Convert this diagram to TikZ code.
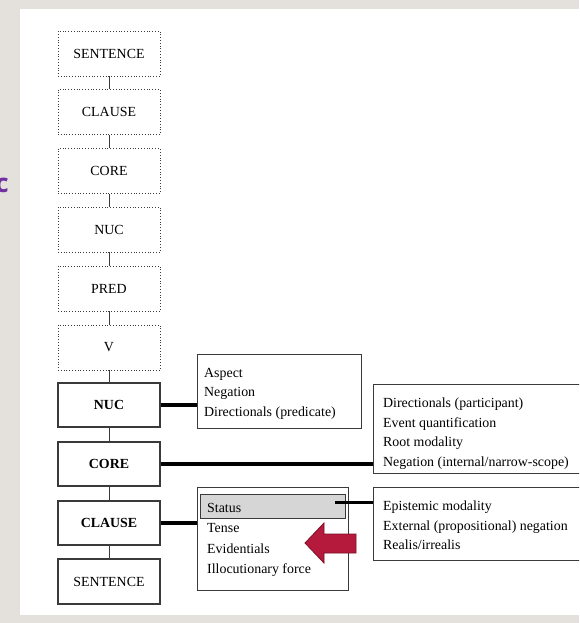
\documentclass[tikz,border=0pt]{standalone}
\usepackage{fontspec}
\setmainfont{Liberation Serif}
\newfontfamily\slidefont{Open Sans}
\definecolor{slidebg}{HTML}{E4E1DD}
\definecolor{framegray}{HTML}{3A3A3A}
\definecolor{statusgray}{HTML}{D6D6D6}
\definecolor{arrowred}{HTML}{B51A3C}
\definecolor{arrowedge}{HTML}{7A1028}
\definecolor{titlepurple}{HTML}{7030A0}
\begin{document}
\begin{tikzpicture}[x=1pt,y=-1pt,
  every node/.style={font=\fontsize{13.9}{19.5}\selectfont, inner sep=0pt},
  layerbox/.style={draw=framegray, dotted, line width=0.8pt, minimum width=102pt, minimum height=45pt},
  opbox/.style={draw=framegray, line width=1.3pt, minimum width=102pt, minimum height=44pt},
  listbox/.style={draw=framegray, line width=1.2pt, anchor=north west},
  listtext/.style={anchor=north west, align=left},
  linkline/.style={draw=framegray, line width=0.9pt},
  heavyline/.style={draw=black, line width=4pt}]
  % slide background and white panel
  \fill[slidebg] (0,0) rectangle (579,623);
  \useasboundingbox (0,0) rectangle (579,623);
  \clip (0,0) rectangle (579,623);
  \fill[white] (20,9) rectangle (579,615);
  % slide title letter, running off the left edge
  \node[text=titlepurple, font=\slidefont\bfseries\fontsize{26}{26}\selectfont, anchor=east] (title) at (9,185) {c};

  % layered structure (dotted)
  \node[layerbox] (s1) at (109,53.5) {SENTENCE};
  \node[layerbox] (c1) at (109,112) {CLAUSE};
  \node[layerbox] (k1) at (109,171) {CORE};
  \node[layerbox] (n1) at (109,229.5) {NUC};
  \node[layerbox] (p1) at (109,288.5) {PRED};
  \node[layerbox] (v1) at (109,347.5) {V};
  % operator projection (solid)
  \node[opbox] (n2) at (109,405) {\bfseries NUC};
  \node[opbox] (k2) at (109,464) {\bfseries CORE};
  \node[opbox] (c2) at (109,523) {\bfseries CLAUSE};
  \node[opbox, minimum height=45pt] (s2) at (109,581.5) {SENTENCE};

  \foreach \a/\b in {s1/c1,c1/k1,k1/n1,n1/p1,p1/v1,v1/n2,n2/k2,k2/c2,c2/s2}
    \draw[linkline] (\a.south) -- (\b.north);

  % operator lists
  \node[listbox, minimum width=164pt, minimum height=74pt] (nucops) at (197,354) {};
  \node[listtext] (nuctext) at (204,368)
    {Aspect\\Negation\\Directionals (predicate)};

  \node[listbox, minimum width=215pt, minimum height=89pt] (coreops) at (373,384) {};
  \node[listtext] (coretext) at (383,398)
    {Directionals (participant)\\Event quantification\\Root modality\\Negation (internal/narrow-scope)};

  \node[listbox, minimum width=151pt, minimum height=103pt] (clauseops) at (197,487) {};
  \node[draw=framegray, line width=0.6pt, fill=statusgray, anchor=north west,
        minimum width=145pt, minimum height=24pt] (status) at (200,494) {};
  \node[listtext, font=\fontsize{13.9}{20.3}\selectfont] (clausetext) at (207,503)
    {Status\\Tense\\Evidentials\\Illocutionary force};

  \node[listbox, minimum width=215pt, minimum height=73pt] (statusops) at (373,487) {};
  \node[listtext] (statustext) at (383,501)
    {Epistemic modality\\External (propositional) negation\\Realis/irrealis};

  % attachment lines
  \draw[heavyline] (n2.east) -- (n2.east -| nucops.west);
  \draw[heavyline] (k2.east) -- (k2.east -| coreops.west);
  \draw[heavyline] (c2.east) -- (c2.east -| clauseops.west);
  \coordinate (statusend) at (335,502);
  \draw[draw=black, line width=3pt] (statusend) -- (statusend -| statusops.west);

  % highlight arrow
  \fill[arrowred, draw=arrowedge, line width=0.8pt]
    (305,543) -- (324,523) -- (324,534) -- (356,534) -- (356,553) -- (324,553) -- (324,563) -- cycle;
\end{tikzpicture}
\end{document}
